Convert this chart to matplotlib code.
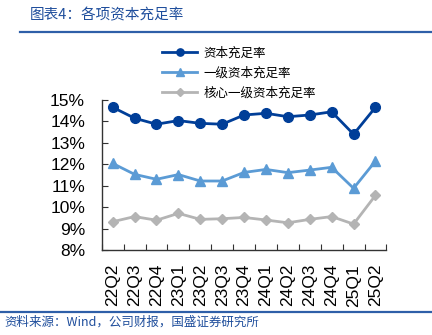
import numpy as np
import matplotlib.pyplot as plt
from matplotlib.lines import Line2D

plt.rcParams['font.family'] = ['Liberation Sans', 'Noto Sans CJK SC', 'DejaVu Sans']

##########################
# Data
##########################

quarters = ['22Q2', '22Q3', '22Q4', '23Q1', '23Q2', '23Q3', '23Q4',
            '24Q1', '24Q2', '24Q3', '24Q4', '25Q1', '25Q2']
car = [14.66, 14.15, 13.87, 14.04, 13.91, 13.87, 14.30,
       14.38, 14.22, 14.30, 14.45, 13.40, 14.66]
tier1 = [12.04, 11.53, 11.30, 11.52, 11.22, 11.22, 11.62,
         11.76, 11.61, 11.73, 11.86, 10.88, 12.15]
cet1 = [9.32, 9.56, 9.39, 9.71, 9.43, 9.46, 9.52,
        9.40, 9.27, 9.43, 9.56, 9.21, 10.55]
labels = ['资本充足率', '一级资本充足率', '核心一级资本充足率']
yticks = [8, 9, 10, 11, 12, 13, 14, 15]

##########################
# Figure
##########################

fig = plt.figure(figsize=(4.32, 3.35), dpi=100)
ax = fig.add_axes([0.2355, 0.2537, 0.659, 0.4478])

x = np.arange(len(quarters))
colors = ['#003E98', '#5B9BD5', '#B4B4B4']
markers = ['o', '^', 'D']
msizes = [7, 7, 5.5]
series = [car, tier1, cet1]
for s, c, m, ms, lab in zip(series, colors, markers, msizes, labels):
    ax.plot(x, s, color=c, marker=m, markersize=ms, linewidth=2.0,
            label=lab, clip_on=False)

ax.set_xlim(-0.5, len(quarters) - 0.5)
ax.set_ylim(8, 15)
ax.set_yticks(yticks)
ax.set_yticklabels(['%d%%' % v for v in yticks], fontsize=12.5)
ax.set_xticks(x)
ax.set_xticklabels(quarters, rotation=90, fontsize=12.5)
ax.set_xticks(np.arange(-0.5, len(quarters)), minor=True)
ax.tick_params(axis='x', which='major', length=0, pad=10)
ax.tick_params(axis='x', which='minor', direction='in', length=4,
               width=0.8, color='#333333')
ax.tick_params(axis='y', direction='in', length=4, width=0.8,
               color='#333333', pad=12)
for side in ['top', 'right']:
    ax.spines[side].set_visible(False)
for side in ['left', 'bottom']:
    ax.spines[side].set_color('#333333')
    ax.spines[side].set_linewidth(1.0)

leg = fig.legend(loc='upper left', bbox_to_anchor=(0.35, 0.895),
                 frameon=False, handlelength=2.8, handletextpad=0.5,
                 labelspacing=0.55, markerscale=0.75,
                 prop={'family': ['Noto Sans CJK SC'], 'size': 9})

# title, rules and source note
fig.text(0.07, 0.955, '图表4：各项资本充足率', color='#1F4E9C',
         fontsize=10.5, style='italic', va='center',
         family=['Noto Sans CJK SC', 'DejaVu Sans'])
fig.add_artist(Line2D([0.046, 1.0], [0.904, 0.904], color='#2E5FA8',
                      linewidth=1.6, transform=fig.transFigure))
fig.add_artist(Line2D([0.0, 1.0], [0.070, 0.070], color='#2E5FA8',
                      linewidth=1.6, transform=fig.transFigure))
fig.text(0.01, 0.038, '资料来源：Wind，公司财报，国盛证券研究所',
         color='#1F4E9C', fontsize=9, style='italic', va='center',
         family=['Noto Sans CJK SC', 'DejaVu Sans'])

fig.savefig('out.png', dpi=100)
plt.close()
